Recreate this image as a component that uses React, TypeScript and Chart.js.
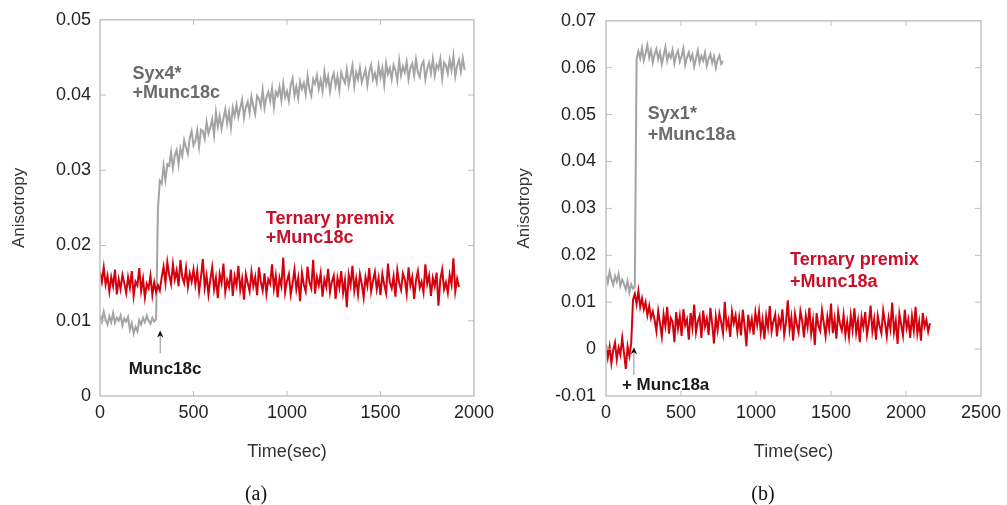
import React, { useEffect, useRef } from "react";
import { Chart, registerables } from "chart.js";

Chart.register(...registerables);

const FONT = '"Liberation Sans", Arial, Helvetica, sans-serif';
const RED = "#d3000e";
const GRAY = "#a4a4a4";

// ---------- Panel (a): Syx4* / Ternary premix + Munc18c ----------
const timeStepA = 10; // seconds between samples
const xTicksA = [0, 500, 1000, 1500, 2000];
const xTickLabelsA = ["0", "500", "1000", "1500", "2000"];
const yTicksA = [0, 0.01, 0.02, 0.03, 0.04, 0.05];
const yTickLabelsA = ["0", "0.01", "0.02", "0.03", "0.04", "0.05"];

const ternaryA = [
  0.0165, 0.0152, 0.0171, 0.0148, 0.016, 0.0139, 0.0158, 0.0146, 0.0168, 0.0135,
  0.0155, 0.0142, 0.0161, 0.015, 0.0137, 0.0158, 0.0144, 0.0166, 0.0133, 0.0152,
  0.0147, 0.017, 0.014, 0.0156, 0.0131, 0.0149, 0.0143, 0.016, 0.0134, 0.0151,
  0.0138, 0.0147, 0.014,
  0.0158, 0.0172, 0.015, 0.0178, 0.0161, 0.0149, 0.0175, 0.0155, 0.0167, 0.0146,
  0.0181, 0.0158, 0.015, 0.017, 0.0145, 0.0163, 0.0152, 0.0168,
  0.0148, 0.0166, 0.0139, 0.0158, 0.0182, 0.0144, 0.016, 0.0135, 0.0155, 0.0171,
  0.0142, 0.0157, 0.013, 0.0162, 0.015, 0.0176, 0.0138, 0.0154, 0.0145, 0.0168,
  0.0133, 0.0159, 0.0147, 0.0173, 0.0141, 0.0156, 0.0128, 0.0162, 0.015, 0.0139,
  0.0165, 0.0146, 0.0158, 0.0134, 0.0171, 0.0152, 0.014, 0.0163, 0.0136, 0.0155,
  0.0149, 0.0175, 0.0143, 0.016, 0.0131, 0.0157, 0.0146, 0.0184, 0.0138, 0.0153,
  0.0162, 0.0135, 0.015, 0.0168, 0.0142, 0.0157, 0.0126, 0.0164, 0.0148, 0.0139,
  0.0172, 0.0151, 0.0143, 0.0181, 0.0136, 0.0158, 0.0147, 0.0163, 0.0132, 0.0155,
  0.0145, 0.0169, 0.0138, 0.0152, 0.016, 0.0129, 0.0157, 0.0144, 0.0166, 0.0137,
  0.0154, 0.0118, 0.0161, 0.0147, 0.0173, 0.014, 0.0156, 0.0135, 0.0162, 0.0149,
  0.0131, 0.0158, 0.0146, 0.017, 0.0139, 0.0153, 0.0165, 0.0142, 0.0157, 0.0134,
  0.0162, 0.0148, 0.0137, 0.0176, 0.0151, 0.0143, 0.0159, 0.0132, 0.0167, 0.015,
  0.0141, 0.0163, 0.0155, 0.0136, 0.0171, 0.0147, 0.0158, 0.0129, 0.0154, 0.0166,
  0.0144, 0.0152, 0.0138, 0.0175, 0.0149, 0.016, 0.0133, 0.0157, 0.0146, 0.0164,
  0.012, 0.0155, 0.0168, 0.0142, 0.0151, 0.0137, 0.0161, 0.0148, 0.0183, 0.0139,
  0.0156, 0.0145,
];

const syx4A = [
  0.0108, 0.0099, 0.0112, 0.0101, 0.0095, 0.0106, 0.0098, 0.011, 0.0097, 0.0104,
  0.01, 0.0107, 0.0094, 0.0103, 0.0099, 0.0105, 0.0088, 0.0097, 0.0083, 0.0092,
  0.0086, 0.0101, 0.0095, 0.0104, 0.0098, 0.0107, 0.01, 0.0096, 0.0104, 0.0099,
  0.0102,
  0.025, 0.0286, 0.0282, 0.0306, 0.0287, 0.0308, 0.0306, 0.0324, 0.0303, 0.032,
  0.0327, 0.0308, 0.0329, 0.0319, 0.034, 0.033, 0.0322, 0.0343, 0.0352, 0.0333,
  0.0339, 0.0353, 0.0331, 0.0354, 0.0352, 0.0342, 0.0364, 0.0349, 0.0357, 0.0368,
  0.0347, 0.0377, 0.0358, 0.0372, 0.0355, 0.0369, 0.0381, 0.0362, 0.0377, 0.0357,
  0.0383, 0.0372, 0.0387, 0.0371, 0.0383, 0.0394, 0.037, 0.0384, 0.0391, 0.0376,
  0.0398, 0.0385, 0.0375, 0.0399, 0.0395, 0.0385, 0.0407, 0.0383, 0.0397, 0.0404,
  0.0392, 0.0409, 0.0384, 0.0404, 0.0399, 0.0411, 0.0393, 0.0415, 0.0397, 0.0405,
  0.0392, 0.0413, 0.0422, 0.0399, 0.0411, 0.0396, 0.0418, 0.0408, 0.0416, 0.0401,
  0.0425, 0.0408, 0.0399, 0.0421, 0.0415, 0.0426, 0.0408, 0.042, 0.0405, 0.0431,
  0.0414, 0.0425, 0.0405, 0.0421, 0.0429, 0.0412, 0.0425, 0.0406, 0.043, 0.0422,
  0.0416, 0.0434, 0.0413, 0.0426, 0.0439, 0.0412, 0.043, 0.0421, 0.0436, 0.0417,
  0.0425, 0.0434, 0.0413, 0.0431, 0.044, 0.0421, 0.0429, 0.0417, 0.0439, 0.0424,
  0.0436, 0.0414, 0.0442, 0.0428, 0.0436, 0.0421, 0.044, 0.0433, 0.0419, 0.0446,
  0.0426, 0.0438, 0.043, 0.0444, 0.0421, 0.0436, 0.0442, 0.0426, 0.0447, 0.043,
  0.0424, 0.044, 0.0445, 0.0421, 0.0435, 0.0443, 0.0429, 0.0448, 0.0426, 0.044,
  0.0435, 0.0448, 0.0422, 0.0443, 0.0439, 0.0429, 0.0447, 0.0433, 0.0452, 0.0425,
  0.0439, 0.0447, 0.0431, 0.0449, 0.0433,
];

// ---------- Panel (b): Syx1* / Ternary premix + Munc18a ----------
const timeStepB = 12; // seconds between samples
const xTicksB = [0, 500, 1000, 1500, 2000, 2500];
const xTickLabelsB = ["0", "500", "1000", "1500", "2000", "2500"];
const yTicksB = [-0.01, 0, 0.01, 0.02, 0.03, 0.04, 0.05, 0.06, 0.07];
const yTickLabelsB = ["-0.01", "0", "0.01", "0.02", "0.03", "0.04", "0.05", "0.06", "0.07"];

const ternaryB = [
  0.001, -0.0018, 0.0005, -0.003, -0.0002, 0.0014, -0.0022, 0.0003, -0.0012, 0.0024,
  -0.0008, -0.0042, 0.0006, -0.0015, 0.0012,
  0.0105, 0.0118, 0.0096, 0.0124, 0.009, 0.0108, 0.0085, 0.01, 0.0072, 0.0092,
  0.0066, 0.008,
  0.0062, 0.0038, 0.0081, 0.0055, 0.0027, 0.0074, 0.0049, 0.009, 0.0033, 0.0066,
  0.0058, 0.0015, 0.0079, 0.0044, 0.007, 0.0028, 0.0085, 0.0051, 0.0063, 0.002,
  0.0077, 0.0046, 0.0095, 0.0036, 0.0059, 0.0071, 0.0024, 0.0082, 0.0048, 0.0065,
  0.003, 0.0088, 0.0053, 0.0012, 0.0069, 0.0041, 0.0076, 0.0057, 0.0034, 0.0101,
  0.0047, 0.0062, 0.0026, 0.008, 0.0055, 0.0072, 0.0037, 0.0067, 0.0029, 0.0084,
  0.005, 0.0006, 0.0073, 0.0043, 0.0064, 0.0031, 0.0078,
  0.0052, 0.008, 0.0035, 0.0063, 0.0021, 0.007, 0.0046, 0.0092, 0.0038, 0.0059,
  0.0074, 0.0027, 0.0066, 0.0049, 0.0085, 0.0031, 0.0057, 0.0104, 0.0042, 0.0068,
  0.0018, 0.0075, 0.0053, 0.0036, 0.0081, 0.006, 0.0025, 0.0071, 0.0047, 0.0088,
  0.0033, 0.0062, 0.0009, 0.0077, 0.005, 0.0039, 0.0083, 0.0056, 0.0028, 0.0069,
  0.0044, 0.0097, 0.0034, 0.0064, 0.0022, 0.0079, 0.0054, 0.004, 0.0073, 0.003,
  0.0058, 0.0026, 0.0072, 0.0041, 0.0087, 0.0035, 0.0061, 0.0015, 0.0068, 0.0047,
  0.0079, 0.003, 0.0055, 0.0093, 0.0038, 0.0064, 0.002, 0.0071, 0.0049, 0.0034,
  0.0082, 0.0057, 0.0027, 0.0066, 0.0043, 0.0099, 0.0036, 0.006, 0.0011, 0.0075,
  0.0052, 0.0029, 0.0084, 0.0045, 0.0063, 0.0024, 0.007, 0.004, 0.009, 0.0033,
  0.0058, 0.0018, 0.0077, 0.0048, 0.0062, 0.0037, 0.0055,
];

const syx1B = [
  0.0158, 0.0142, 0.0165, 0.0149, 0.0137, 0.0156, 0.0144, 0.016, 0.0135, 0.0148,
  0.0139, 0.0127, 0.0145, 0.0121, 0.0138, 0.0129, 0.0133,
  0.0618,
  0.0635, 0.062, 0.0642, 0.0616, 0.0631, 0.0648, 0.0622, 0.0637, 0.0611, 0.0629,
  0.064, 0.0618, 0.0633, 0.0607, 0.0626, 0.0644, 0.0615, 0.063, 0.0621, 0.0638,
  0.0609, 0.0627, 0.0636, 0.0613, 0.0624, 0.0641, 0.0606, 0.0622, 0.0633, 0.0617,
  0.0628, 0.0603, 0.062, 0.0637, 0.0611, 0.0625, 0.0615, 0.0632, 0.0604, 0.0619,
  0.0629, 0.061, 0.0624, 0.06, 0.0617, 0.0626, 0.0608, 0.0614,
];

type Note = { text: string; t: number; v: number; color: string; size: number; align: CanvasTextAlign };
type Arrow = { t: number; tipV: number; tailV: number };

type Panel = {
  step: number;
  red: number[];
  gray: number[];
  xMax: number;
  xTicks: number[];
  xTickLabels: string[];
  yMin: number;
  yMax: number;
  yTicks: number[];
  yTickLabels: string[];
  yAxisWidth: number;
  yTickPad: number;
  yTitlePad: number;
  padRight: number;
  notes: Note[];
  arrow: Arrow;
};

const panelA: Panel = {
  step: timeStepA,
  red: ternaryA,
  gray: syx4A,
  xMax: 2000,
  xTicks: xTicksA,
  xTickLabels: xTickLabelsA,
  yMin: 0,
  yMax: 0.05,
  yTicks: yTicksA,
  yTickLabels: yTickLabelsA,
  yAxisWidth: 100,
  yTickPad: 9,
  yTitlePad: 9,
  padRight: 22,
  notes: [
    { text: "Syx4*", t: 174, v: 0.0421, color: "#6a6a6a", size: 18, align: "left" },
    { text: "+Munc18c", t: 174, v: 0.0396, color: "#6a6a6a", size: 18, align: "left" },
    { text: "Ternary premix", t: 887, v: 0.0229, color: "#c8102a", size: 18, align: "left" },
    { text: "+Munc18c", t: 887, v: 0.0204, color: "#c8102a", size: 18, align: "left" },
    { text: "Munc18c", t: 348, v: 0.0029, color: "#1a1a1a", size: 17, align: "center" },
  ],
  arrow: { t: 322, tipV: 0.0087, tailV: 0.0057 },
};

const panelB: Panel = {
  step: timeStepB,
  red: ternaryB,
  gray: syx1B,
  xMax: 2500,
  xTicks: xTicksB,
  xTickLabels: xTickLabelsB,
  yMin: -0.01,
  yMax: 0.07,
  yTicks: yTicksB,
  yTickLabels: yTickLabelsB,
  yAxisWidth: 106,
  yTickPad: 10,
  yTitlePad: 14,
  padRight: 24,
  notes: [
    { text: "Syx1*", t: 279, v: 0.049, color: "#6a6a6a", size: 18, align: "left" },
    { text: "+Munc18a", t: 279, v: 0.0446, color: "#6a6a6a", size: 18, align: "left" },
    { text: "Ternary premix", t: 1227, v: 0.018, color: "#c8102a", size: 18, align: "left" },
    { text: "+Munc18a", t: 1227, v: 0.0132, color: "#c8102a", size: 18, align: "left" },
    { text: "+ Munc18a", t: 106, v: -0.0087, color: "#1a1a1a", size: 17, align: "left" },
  ],
  arrow: { t: 186, tipV: 0.0004, tailV: -0.0055 },
};

function decorPlugin(p: Panel) {
  return {
    id: "decor",
    afterDatasetsDraw(chart: any) {
      const { ctx, chartArea: a, scales } = chart;
      const x = scales.x;
      const y = scales.y;
      ctx.save();
      const line = (x1: number, y1: number, x2: number, y2: number) => {
        ctx.beginPath();
        ctx.moveTo(x1, y1);
        ctx.lineTo(x2, y2);
        ctx.stroke();
      };
      // frame
      ctx.strokeStyle = "#c4c4c4";
      ctx.lineWidth = 1.5;
      ctx.strokeRect(a.left, a.top, a.right - a.left, a.bottom - a.top);
      // inner tick marks
      ctx.lineWidth = 1;
      ctx.strokeStyle = "#bdbdbd";
      x.ticks.forEach((tk: any) => {
        const px = x.getPixelForValue(tk.value);
        if (px <= a.left + 1 || px >= a.right - 1) return;
        line(px, a.bottom, px, a.bottom - 5);
        line(px, a.top, px, a.top + 5);
      });
      y.ticks.forEach((tk: any) => {
        const py = y.getPixelForValue(tk.value);
        if (py <= a.top + 1 || py >= a.bottom - 1) return;
        line(a.left, py, a.left + 6, py);
        line(a.right, py, a.right - 6, py);
      });
      // arrow marking Munc18 addition
      const ax = x.getPixelForValue(p.arrow.t);
      const tipY = y.getPixelForValue(p.arrow.tipV);
      const tailY = y.getPixelForValue(p.arrow.tailV);
      ctx.strokeStyle = "#8f8f8f";
      ctx.lineWidth = 1;
      line(ax, tipY + 5, ax, tailY);
      ctx.fillStyle = "#111";
      ctx.beginPath();
      ctx.moveTo(ax, tipY);
      ctx.lineTo(ax - 3.2, tipY + 7);
      ctx.lineTo(ax, tipY + 5);
      ctx.lineTo(ax + 3.2, tipY + 7);
      ctx.closePath();
      ctx.fill();
      // text notes
      ctx.textBaseline = "alphabetic";
      p.notes.forEach((n) => {
        ctx.font = `bold ${n.size}px ${FONT}`;
        ctx.fillStyle = n.color;
        ctx.textAlign = n.align;
        ctx.fillText(n.text, x.getPixelForValue(n.t), y.getPixelForValue(n.v));
      });
      ctx.restore();
    },
  };
}

function buildConfig(p: Panel): any {
  const redPts = p.red.map((v, i) => ({ x: i * p.step, y: v }));
  const grayPts = p.gray.map((v, i) => ({ x: i * p.step, y: v }));
  return {
    type: "line",
    data: {
      datasets: [
        { data: redPts, borderColor: RED, borderWidth: 2, pointRadius: 0, tension: 0, fill: false, borderJoinStyle: "miter" },
        { data: grayPts, borderColor: GRAY, borderWidth: 2, pointRadius: 0, tension: 0, fill: false, borderJoinStyle: "miter" },
      ],
    },
    options: {
      animation: false,
      responsive: false,
      maintainAspectRatio: false,
      events: [],
      layout: { padding: { top: 19, right: p.padRight, left: 0, bottom: 0 } },
      plugins: { legend: { display: false }, tooltip: { enabled: false } },
      scales: {
        x: {
          type: "linear",
          min: 0,
          max: p.xMax,
          afterBuildTicks: (s: any) => {
            s.ticks = p.xTicks.map((v) => ({ value: v }));
          },
          afterFit: (s: any) => {
            s.height = 109;
          },
          ticks: {
            callback: (_v: any, i: number) => p.xTickLabels[i],
            color: "#222",
            font: { family: FONT, size: 18 },
            padding: 6,
            maxRotation: 0,
            autoSkip: false,
          },
          grid: { display: false, drawTicks: false },
          border: { display: false },
          title: {
            display: true,
            text: "Time(sec)",
            color: "#333",
            font: { family: FONT, size: 18 },
            padding: { top: 0, bottom: 42 },
          },
        },
        y: {
          type: "linear",
          min: p.yMin,
          max: p.yMax,
          afterBuildTicks: (s: any) => {
            s.ticks = p.yTicks.map((v) => ({ value: v }));
          },
          afterFit: (s: any) => {
            s.width = p.yAxisWidth;
          },
          ticks: {
            callback: (_v: any, i: number) => p.yTickLabels[i],
            color: "#222",
            font: { family: FONT, size: 18 },
            padding: p.yTickPad,
            autoSkip: false,
          },
          grid: { display: false, drawTicks: false },
          border: { display: false },
          title: {
            display: true,
            text: "Anisotropy",
            color: "#333",
            font: { family: FONT, size: 17 },
            padding: { top: p.yTitlePad, bottom: 0 },
          },
        },
      },
    },
    plugins: [decorPlugin(p)],
  };
}

function PanelChart({ panel, left, width }: { panel: Panel; left: number; width: number }) {
  const ref = useRef<HTMLCanvasElement | null>(null);
  useEffect(() => {
    if (!ref.current) return;
    const chart = new Chart(ref.current, buildConfig(panel));
    return () => chart.destroy();
  }, [panel]);
  return (
    <canvas
      ref={ref}
      width={width}
      height={505}
      style={{ position: "absolute", left, top: 0, width, height: 505 }}
    />
  );
}

const captionStyle: React.CSSProperties = {
  position: "absolute",
  top: 481,
  width: 40,
  textAlign: "center",
  fontFamily: '"Liberation Serif", "Times New Roman", serif',
  fontSize: 20,
  lineHeight: "24px",
  color: "#111",
};

export default function App() {
  return (
    <div
      style={{
        position: "absolute",
        left: 0,
        top: 0,
        width: 1007,
        height: 505,
        background: "#fff",
        overflow: "hidden",
      }}
    >
      <PanelChart panel={panelA} left={0} width={500} />
      <PanelChart panel={panelB} left={500} width={507} />
      <div style={{ ...captionStyle, left: 236 }}>(a)</div>
      <div style={{ ...captionStyle, left: 743 }}>(b)</div>
    </div>
  );
}
